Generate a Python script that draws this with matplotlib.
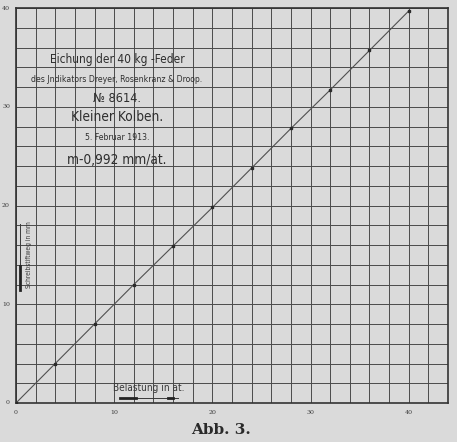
import matplotlib
matplotlib.use("Agg")
import matplotlib.pyplot as plt
from matplotlib import font_manager as fm
import numpy as np

# Data
load_at = [0, 4, 8, 12, 16, 20, 24, 28, 32, 36, 40]
stroke_mm = [0, 4.0, 8.0, 12.0, 15.9, 19.8, 23.8, 27.8, 31.7, 35.7, 39.7]
x_ticks = [0, 10, 20, 30, 40]
y_ticks = [0, 10, 20, 30, 40]
title_lines = ["Eichung der 40 kg -Feder",
               "des Jndikators Dreyer, Rosenkranz & Droop.",
               "№ 8614.",
               "Kleiner Kolben.",
               "5. Februar 1913.",
               "m-0,992 mm/at."]

cond_file = None
for f in fm.findSystemFonts():
    n = f.lower()
    if "dejavusanscondensed.ttf" in n or "liberationsansnarrow-regular" in n:
        cond_file = f
        break

bg = "#dadada"
ink = "#3a3a3a"
W, H = 457, 442
fig = plt.figure(figsize=(W/100, H/100), dpi=100, facecolor=bg)
ax = fig.add_axes([16/W, 1-403/H, (448-16)/W, (403-8)/H], facecolor=bg)
ax.set_xlim(0, 44)
ax.set_ylim(0, 40)
ax.set_xticks(np.arange(0, 45, 2))
ax.set_yticks(np.arange(0, 41, 2))
ax.grid(True, color="#4a4a4a", linewidth=0.7)
ax.tick_params(length=0, labelbottom=False, labelleft=False)
for s in ax.spines.values():
    s.set_color("#333333")
    s.set_linewidth(1.2)

ax.plot(load_at, stroke_mm, color="#505050", linewidth=0.8, zorder=3)
ax.plot(load_at, stroke_mm, linestyle="none", marker="s", markersize=1.8,
        color="#2a2a2a", zorder=4)

for v in x_ticks:
    ax.text(v, -0.7, str(v), ha="center", va="top", fontsize=4.5, color=ink,
            family="DejaVu Serif")
for v in y_ticks:
    ax.text(-0.6, v, str(v), ha="right", va="center", fontsize=4.5, color=ink,
            family="DejaVu Serif")

def fp(size):
    if cond_file:
        return fm.FontProperties(fname=cond_file, size=size)
    return fm.FontProperties(family="DejaVu Sans", size=size * 0.8)

cx = 117
specs = [(59, 8.6), (79, 6.2), (99, 9.2), (117, 9.8), (137, 6.2), (160, 9.8)]
for (py, fs), t in zip(specs, title_lines):
    fig.text(cx/W, 1-py/H, t, ha="center", va="center", fontproperties=fp(fs),
             color="#2e2e2e")

fig.text(29/W, 1-255/H, "Schreibstiftweg in mm", rotation=90, ha="center",
         va="center", fontproperties=fp(4.8), color=ink)
fig.add_artist(plt.Line2D([20/W, 20/W], [1-290/H, 1-224/H], color=ink, lw=0.7))
fig.add_artist(plt.Line2D([20/W, 20/W], [1-290/H, 1-266/H], color="#222222", lw=2.0))
fig.text(149/W, 1-388/H, "Belastung in at.", ha="center", va="center",
         fontproperties=fp(7.2), color=ink)
fig.add_artist(plt.Line2D([120/W, 178/W], [1-398/H, 1-398/H], color=ink, lw=0.7))
fig.add_artist(plt.Line2D([120/W, 136/W], [1-398/H, 1-398/H], color="#222222", lw=2.0))
fig.add_artist(plt.Line2D([168/W, 173/W], [1-398/H, 1-398/H], color="#222222", lw=2.0))

fig.text(221/W, 1-430/H, "Abb. 3.", ha="center", va="center", fontsize=11,
         fontweight="bold", color="#2a2a2a", family="DejaVu Serif")

fig.savefig("out.png", dpi=100, facecolor=bg)
